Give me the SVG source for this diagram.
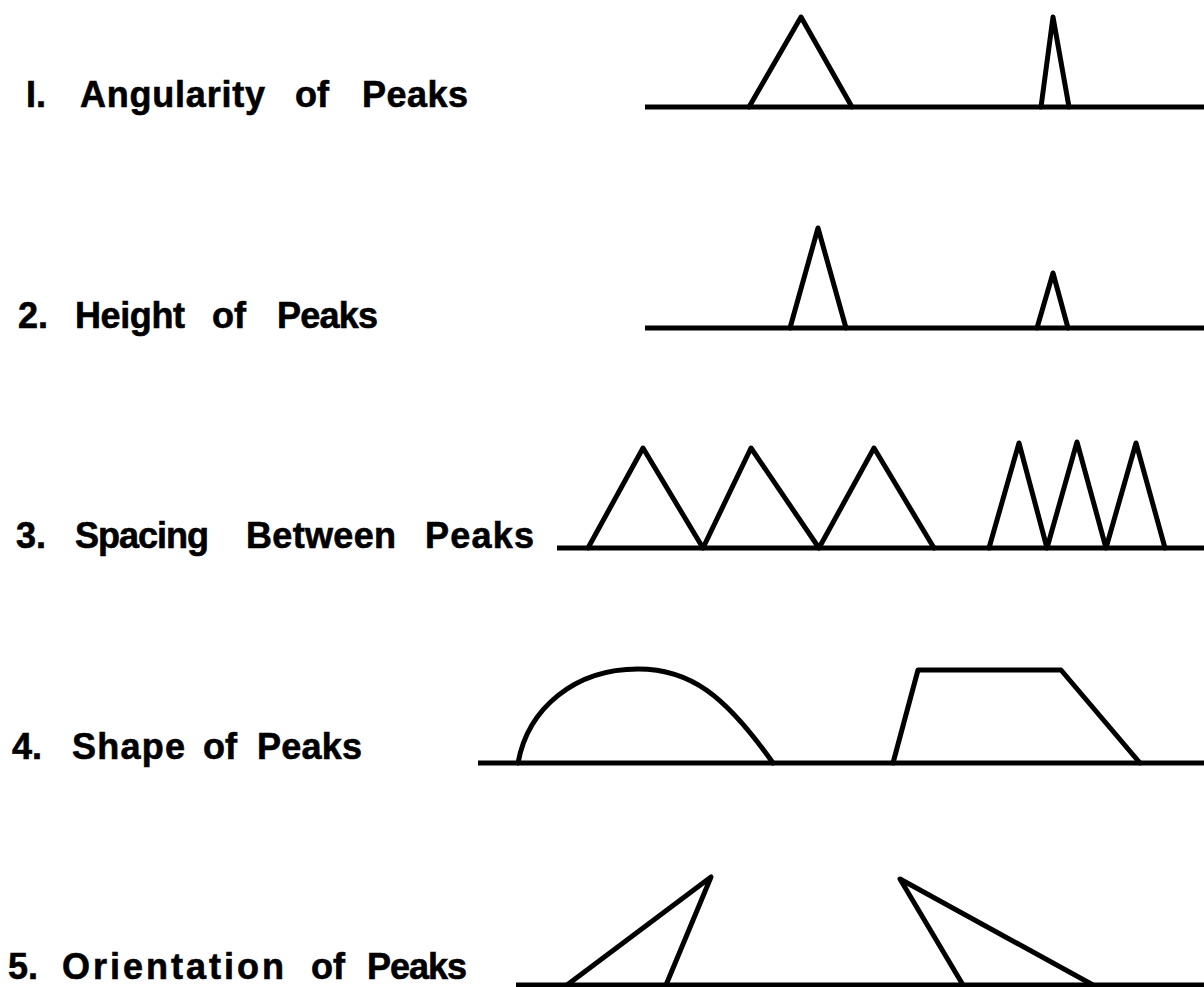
<svg xmlns="http://www.w3.org/2000/svg" width="1204" height="987" viewBox="0 0 1204 987">
<style>
.lbl{font-family:"Liberation Sans",Arial,sans-serif;font-weight:bold;font-size:36px;fill:#000;stroke:#000;stroke-width:0.6}
.ln{fill:none;stroke:#000;stroke-width:5;stroke-linejoin:round;stroke-linecap:round}
.base{fill:none;stroke:#000;stroke-width:5;stroke-linecap:butt}
</style>
<rect width="1204" height="987" fill="#fff"/>
<g id="row1">
<text class="lbl" y="107"><tspan x="26">I.</tspan><tspan x="80" textLength="185" lengthAdjust="spacing">Angularity</tspan><tspan x="295">of</tspan><tspan x="362" textLength="106" lengthAdjust="spacing">Peaks</tspan></text>
<line class="base" x1="645" y1="107" x2="1204" y2="107"/>
<polyline class="ln" points="749,107 801,17 852,107"/>
<polyline class="ln" points="1041,107 1053,17 1069,107"/>
</g>
<g id="row2">
<text class="lbl" y="328"><tspan x="18">2.</tspan><tspan x="75" textLength="110" lengthAdjust="spacing">Height</tspan><tspan x="212">of</tspan><tspan x="277" textLength="101" lengthAdjust="spacing">Peaks</tspan></text>
<line class="base" x1="645" y1="328" x2="1204" y2="328"/>
<polyline class="ln" points="790,328 818,228 846,328"/>
<polyline class="ln" points="1037,328 1053,273 1068,328"/>
</g>
<g id="row3">
<text class="lbl" y="548"><tspan x="16">3.</tspan><tspan x="75" textLength="134" lengthAdjust="spacing">Spacing</tspan><tspan x="246" textLength="150" lengthAdjust="spacing">Between</tspan><tspan x="425" textLength="109" lengthAdjust="spacing">Peaks</tspan></text>
<line class="base" x1="557" y1="548" x2="1204" y2="548"/>
<polyline class="ln" points="588,548 643,448 703,548 751,448 819,548 874,448 934,548"/>
<polyline class="ln" points="989,548 1019,443 1047,548 1077,442 1106,548 1136,443 1165,548"/>
</g>
<g id="row4">
<text class="lbl" y="759"><tspan x="12">4.</tspan><tspan x="72" textLength="113" lengthAdjust="spacing">Shape</tspan><tspan x="203">of</tspan><tspan x="257" textLength="105" lengthAdjust="spacing">Peaks</tspan></text>
<line class="base" x1="478" y1="763" x2="1204" y2="763"/>
<path class="ln" d="M518,763 C528,708 575,669 638,669 C690,669 725,695 773,763"/>
<polyline class="ln" points="893,763 918,670 1061,670 1140,763"/>
</g>
<g id="row5">
<text class="lbl" y="979"><tspan x="8">5.</tspan><tspan x="62" textLength="222" lengthAdjust="spacing">Orientation</tspan><tspan x="311">of</tspan><tspan x="367" textLength="100" lengthAdjust="spacing">Peaks</tspan></text>
<line class="base" x1="516" y1="985" x2="1204" y2="985"/>
<polyline class="ln" points="567,985 711,877 666,985"/>
<polyline class="ln" points="963,985 900,879 1093,985"/>
</g>
</svg>
